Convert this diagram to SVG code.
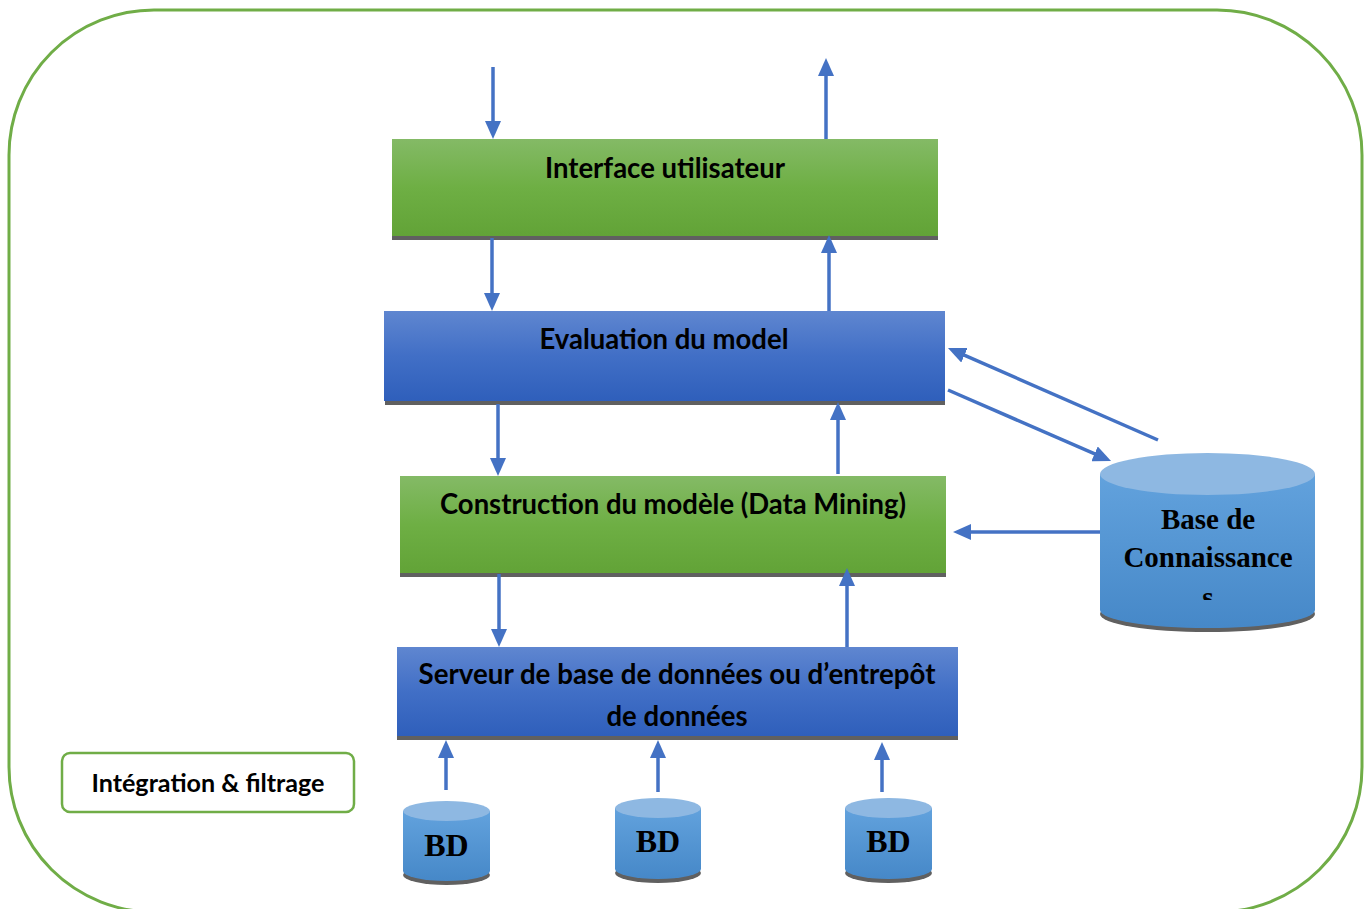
<svg xmlns="http://www.w3.org/2000/svg" width="1372" height="909" viewBox="0 0 1372 909">
  <defs>
    <linearGradient id="gGreen" x1="0" y1="0" x2="0" y2="1">
      <stop offset="0" stop-color="#84BA66"/>
      <stop offset="0.5" stop-color="#6EAF44"/>
      <stop offset="1" stop-color="#62A337"/>
    </linearGradient>
    <linearGradient id="gBlue" x1="0" y1="0" x2="0" y2="1">
      <stop offset="0" stop-color="#5F86D0"/>
      <stop offset="0.5" stop-color="#416FC6"/>
      <stop offset="1" stop-color="#2F5FBB"/>
    </linearGradient>
    <linearGradient id="gCyl" x1="0" y1="0" x2="0" y2="1">
      <stop offset="0" stop-color="#62A2DD"/>
      <stop offset="1" stop-color="#4688C8"/>
    </linearGradient>
    <marker id="arrow" markerUnits="userSpaceOnUse" markerWidth="18" markerHeight="16" refX="9" refY="8" orient="auto">
      <path d="M0,0 L18,8 L0,16 z" fill="#4472C4"/>
    </marker>
    <clipPath id="kbClip">
      <rect x="1100" y="440" width="215" height="160"/>
    </clipPath>
    <style>
      .frame { fill: none; stroke: #70AD47; stroke-width: 3; }
      .shadow { fill: #606060; }
      .label { font-family: Lato, "Open Sans", "Liberation Sans", sans-serif; font-weight: bold; fill: #000; text-anchor: middle; }
      .serif { font-family: "Liberation Serif", "Times New Roman", serif; font-weight: bold; fill: #000; text-anchor: middle; }
      .link { fill: none; stroke: #4472C4; stroke-width: 3.5; marker-end: url(#arrow); }
      .cylTop { fill: #8EB8E2; }
    </style>
  </defs>

  <rect width="1372" height="909" fill="#FFFFFF"/>

  <!-- outer frame -->
  <rect class="frame" x="9" y="10" width="1353" height="902" rx="145" ry="145"/>

  <!-- Interface utilisateur -->
  <g id="interface">
    <rect class="shadow" x="392" y="139" width="546" height="101"/>
    <rect x="392" y="139" width="546" height="97" fill="url(#gGreen)"/>
    <text class="label" x="665" y="178" font-size="28" textLength="240" lengthAdjust="spacingAndGlyphs">Interface utilisateur</text>
  </g>

  <!-- Evaluation du model -->
  <g id="evaluation">
    <rect class="shadow" x="385" y="311" width="560" height="94"/>
    <rect x="384" y="311" width="561" height="90" fill="url(#gBlue)"/>
    <text class="label" x="664" y="349" font-size="28" textLength="249" lengthAdjust="spacingAndGlyphs">Evaluation du model</text>
  </g>

  <!-- Construction du modèle -->
  <g id="construction">
    <rect class="shadow" x="400" y="476" width="546" height="101"/>
    <rect x="400" y="476" width="546" height="97" fill="url(#gGreen)"/>
    <text class="label" x="673" y="514" font-size="28" textLength="466" lengthAdjust="spacingAndGlyphs">Construction du modèle (Data Mining)</text>
  </g>

  <!-- Serveur de base de données -->
  <g id="serveur">
    <rect class="shadow" x="397" y="647" width="561" height="93"/>
    <rect x="397" y="647" width="561" height="89" fill="url(#gBlue)"/>
    <text class="label" x="677" y="684" font-size="28" textLength="517" lengthAdjust="spacingAndGlyphs">Serveur de base de données ou d’entrepôt</text>
    <text class="label" x="677" y="726" font-size="28" textLength="141" lengthAdjust="spacingAndGlyphs">de données</text>
  </g>

  <!-- Base de Connaissances -->
  <g id="knowledge-base">
    <ellipse class="shadow" cx="1207.5" cy="614" rx="107.5" ry="18"/>
    <path d="M1100,474 L1100,610 A107.5,18 0 0 0 1315,610 L1315,474 Z" fill="url(#gCyl)"/>
    <ellipse class="cylTop" cx="1207.5" cy="474" rx="107.5" ry="21"/>
    <text class="serif" x="1208" y="529" font-size="29">Base de</text>
    <text class="serif" x="1208" y="567" font-size="29">Connaissance</text>
    <text class="serif" x="1208" y="607" font-size="29" clip-path="url(#kbClip)">s</text>
  </g>

  <!-- Intégration & filtrage -->
  <g id="integration">
    <rect x="62" y="753" width="292" height="59" rx="8" ry="8" fill="#FFFFFF" stroke="#70AD47" stroke-width="2.5"/>
    <text class="label" x="208" y="792" font-size="24" textLength="233" lengthAdjust="spacingAndGlyphs">Intégration &amp; filtrage</text>
  </g>

  <!-- source databases -->
  <g id="bd1">
    <ellipse class="shadow" cx="446.5" cy="875" rx="43.5" ry="10"/>
    <path d="M403,811 L403,871 A43.5,10 0 0 0 490,871 L490,811 Z" fill="url(#gCyl)"/>
    <ellipse class="cylTop" cx="446.5" cy="811" rx="43.5" ry="10"/>
    <text class="serif" x="446.5" y="856" font-size="32">BD</text>
  </g>
  <g id="bd2">
    <ellipse class="shadow" cx="658" cy="873" rx="43" ry="10"/>
    <path d="M615,808 L615,869 A43,10 0 0 0 701,869 L701,808 Z" fill="url(#gCyl)"/>
    <ellipse class="cylTop" cx="658" cy="808" rx="43" ry="10"/>
    <text class="serif" x="658" y="852" font-size="32">BD</text>
  </g>
  <g id="bd3">
    <ellipse class="shadow" cx="888.5" cy="873" rx="43.5" ry="10"/>
    <path d="M845,808 L845,869 A43.5,10 0 0 0 932,869 L932,808 Z" fill="url(#gCyl)"/>
    <ellipse class="cylTop" cx="888.5" cy="808" rx="43.5" ry="10"/>
    <text class="serif" x="888.5" y="852" font-size="32">BD</text>
  </g>

  <!-- connectors -->
  <g id="connectors">
    <path class="link" d="M493,67 L493,130"/>
    <path class="link" d="M826,139 L826,67"/>
    <path class="link" d="M492,238 L492,302"/>
    <path class="link" d="M829,311 L829,244"/>
    <path class="link" d="M498,404 L498,467"/>
    <path class="link" d="M838,474 L838,411"/>
    <path class="link" d="M499,574 L499,638"/>
    <path class="link" d="M847,647 L847,577"/>
    <path class="link" d="M1158,440 L956.2,351.6"/>
    <path class="link" d="M948,390 L1102.8,457.4"/>
    <path class="link" d="M1100,532 L962,532"/>
    <path class="link" d="M446,790 L446,749"/>
    <path class="link" d="M658,792 L658,749"/>
    <path class="link" d="M882,792 L882,751"/>
  </g>
</svg>
